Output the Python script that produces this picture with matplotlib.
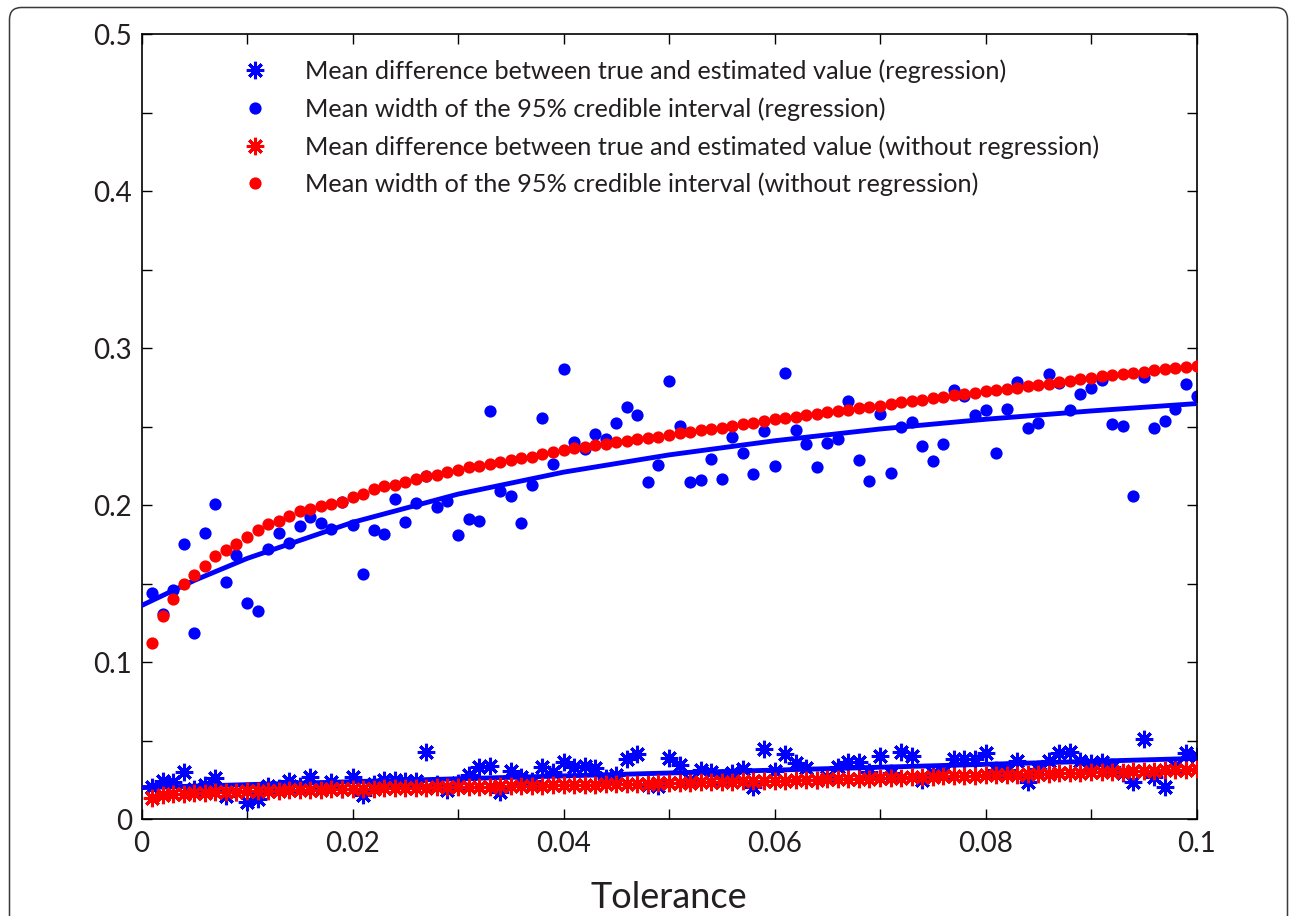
import numpy as np
import matplotlib
matplotlib.use("Agg")
import matplotlib.pyplot as plt
from matplotlib.patches import FancyBboxPatch
from matplotlib.lines import Line2D
from matplotlib.transforms import IdentityTransform
from matplotlib.ticker import FixedLocator, FuncFormatter

plt.rcParams['font.family'] = ['Lato', 'DejaVu Sans']

# Tolerance values (0.001 ... 0.1)
tolerance = np.arange(1, 101) / 1000.0

# Mean width of the 95% credible interval (regression)
width_reg = [
    0.1438, 0.1306, 0.1459, 0.1750, 0.1183, 0.1820, 0.2005, 0.1512, 0.1682, 0.1378,
    0.1325, 0.1720, 0.1820, 0.1761, 0.1869, 0.1926, 0.1884, 0.1848, 0.2022, 0.1873,
    0.1559, 0.1841, 0.1814, 0.2039, 0.1890, 0.2011, 0.2186, 0.1990, 0.2028, 0.1810,
    0.1912, 0.1899, 0.2600, 0.2090, 0.2060, 0.1884, 0.2128, 0.2553, 0.2260, 0.2867,
    0.2404, 0.2360, 0.2451, 0.2421, 0.2525, 0.2627, 0.2574, 0.2147, 0.2256, 0.2793,
    0.2504, 0.2147, 0.2160, 0.2294, 0.2164, 0.2432, 0.2332, 0.2200, 0.2470, 0.2247,
    0.2840, 0.2477, 0.2387, 0.2241, 0.2398, 0.2419, 0.2663, 0.2288, 0.2152, 0.2583,
    0.2203, 0.2500, 0.2532, 0.2377, 0.2281, 0.2387, 0.2734, 0.2695, 0.2574, 0.2606,
    0.2330, 0.2612, 0.2782, 0.2494, 0.2521, 0.2835, 0.2776, 0.2606, 0.2706, 0.2744,
    0.2797, 0.2517, 0.2506, 0.2058, 0.2818, 0.2489, 0.2538, 0.2610, 0.2772, 0.2695,
]

# Mean width of the 95% credible interval (without regression)
width_noreg = [
    0.1120, 0.1294, 0.1403, 0.1496, 0.1556, 0.1609, 0.1673, 0.1711, 0.1751, 0.1794,
    0.1839, 0.1879, 0.1900, 0.1932, 0.1960, 0.1974, 0.1996, 0.2009, 0.2023, 0.2051,
    0.2072, 0.2104, 0.2119, 0.2130, 0.2147, 0.2168, 0.2183, 0.2194, 0.2210, 0.2225,
    0.2240, 0.2251, 0.2262, 0.2277, 0.2288, 0.2298, 0.2309, 0.2324, 0.2338, 0.2351,
    0.2366, 0.2372, 0.2383, 0.2392, 0.2400, 0.2411, 0.2419, 0.2430, 0.2436, 0.2447,
    0.2457, 0.2466, 0.2477, 0.2485, 0.2494, 0.2506, 0.2515, 0.2523, 0.2536, 0.2549,
    0.2555, 0.2564, 0.2572, 0.2583, 0.2593, 0.2600, 0.2608, 0.2617, 0.2627, 0.2634,
    0.2646, 0.2655, 0.2663, 0.2672, 0.2680, 0.2689, 0.2700, 0.2708, 0.2717, 0.2725,
    0.2734, 0.2740, 0.2748, 0.2757, 0.2765, 0.2774, 0.2782, 0.2793, 0.2801, 0.2812,
    0.2823, 0.2829, 0.2835, 0.2840, 0.2850, 0.2861, 0.2865, 0.2874, 0.2880, 0.2886,
]

# Mean difference between true and estimated value (regression)
diff_reg = [
    0.0206, 0.0244, 0.0238, 0.0302, 0.0190, 0.0217, 0.0259, 0.0149, 0.0174, 0.0110,
    0.0125, 0.0210, 0.0200, 0.0240, 0.0210, 0.0270, 0.0190, 0.0238, 0.0190, 0.0270,
    0.0153, 0.0220, 0.0249, 0.0249, 0.0245, 0.0240, 0.0429, 0.0220, 0.0185, 0.0230,
    0.0280, 0.0333, 0.0336, 0.0174, 0.0308, 0.0270, 0.0240, 0.0333, 0.0302, 0.0365,
    0.0329, 0.0336, 0.0323, 0.0260, 0.0280, 0.0380, 0.0414, 0.0217, 0.0210, 0.0387,
    0.0344, 0.0250, 0.0312, 0.0302, 0.0260, 0.0295, 0.0316, 0.0206, 0.0444, 0.0308,
    0.0414, 0.0355, 0.0323, 0.0250, 0.0270, 0.0329, 0.0365, 0.0365, 0.0300, 0.0401,
    0.0290, 0.0425, 0.0404, 0.0250, 0.0290, 0.0300, 0.0380, 0.0380, 0.0380, 0.0418,
    0.0310, 0.0310, 0.0372, 0.0238, 0.0320, 0.0372, 0.0423, 0.0429, 0.0372, 0.0355,
    0.0361, 0.0330, 0.0291, 0.0238, 0.0508, 0.0270, 0.0206, 0.0340, 0.0423, 0.0401,
]

# Mean difference between true and estimated value (without regression)
diff_noreg = [
    0.0135, 0.0152, 0.0158, 0.0162, 0.0165, 0.0168, 0.0170, 0.0172, 0.0174, 0.0176,
    0.0178, 0.0180, 0.0181, 0.0183, 0.0184, 0.0186, 0.0187, 0.0188, 0.0190, 0.0191,
    0.0192, 0.0193, 0.0195, 0.0196, 0.0197, 0.0198, 0.0199, 0.0201, 0.0202, 0.0203,
    0.0204, 0.0205, 0.0207, 0.0208, 0.0209, 0.0210, 0.0212, 0.0213, 0.0214, 0.0216,
    0.0217, 0.0218, 0.0219, 0.0221, 0.0222, 0.0223, 0.0224, 0.0226, 0.0227, 0.0228,
    0.0230, 0.0231, 0.0233, 0.0234, 0.0236, 0.0237, 0.0239, 0.0240, 0.0242, 0.0243,
    0.0245, 0.0247, 0.0248, 0.0250, 0.0252, 0.0253, 0.0255, 0.0257, 0.0258, 0.0260,
    0.0262, 0.0264, 0.0265, 0.0267, 0.0269, 0.0271, 0.0272, 0.0274, 0.0276, 0.0278,
    0.0280, 0.0282, 0.0283, 0.0285, 0.0287, 0.0289, 0.0291, 0.0293, 0.0295, 0.0297,
    0.0299, 0.0301, 0.0302, 0.0304, 0.0306, 0.0308, 0.0310, 0.0312, 0.0314, 0.0316,
]

# Fitted trend curves for the regression series
fit_width_x = [0.0, 0.005, 0.01, 0.02, 0.03, 0.04, 0.05, 0.06, 0.07, 0.08, 0.09, 0.1]
fit_width_y = [0.1360, 0.1520, 0.1660, 0.1890, 0.2070, 0.2210, 0.2320, 0.2410,
               0.2485, 0.2547, 0.2600, 0.2647]
fit_diff_x = [0.0, 0.025, 0.05, 0.075, 0.1]
fit_diff_y = [0.0200, 0.0247, 0.0293, 0.0339, 0.0386]

legend_labels = [
    "Mean difference between true and estimated value (regression)",
    "Mean width of the 95% credible interval (regression)",
    "Mean difference between true and estimated value (without regression)",
    "Mean width of the 95% credible interval (without regression)",
]

BLUE = (0, 0, 1)
RED = (1, 0, 0)
TEXT = "#231f20"
STAR = (8, 2, 0)
STAR_KW = dict(marker=STAR, ms=12.5, mew=2.2)
DOT_KW = dict(marker="o", ms=8.8, mew=0)

W, H = 1290, 916
fig = plt.figure(figsize=(W / 100, H / 100), dpi=100)
ax = fig.add_axes([141.5 / W, 1 - 819 / H, (1196.5 - 141.5) / W, (819 - 34.3) / H])

ax.plot(tolerance, diff_reg, linestyle="none", color=BLUE, zorder=2, **STAR_KW)
ax.plot(tolerance, width_reg, linestyle="none", color=BLUE, zorder=2, **DOT_KW)
ax.plot(fit_width_x, fit_width_y, color=BLUE, lw=3.5, zorder=3,
        solid_capstyle="butt", solid_joinstyle="round")
ax.plot(fit_diff_x, fit_diff_y, color=BLUE, lw=3.5, zorder=3,
        solid_capstyle="butt", solid_joinstyle="round")
ax.plot(tolerance, diff_noreg, linestyle="none", color=RED, zorder=4, **STAR_KW)
ax.plot(tolerance, width_noreg, linestyle="none", color=RED, zorder=4, **DOT_KW)

ax.set_xlim(0, 0.1)
ax.set_ylim(0, 0.5)

xt = [i / 100 for i in range(11)]
yt = [i / 20 for i in range(11)]
ax.xaxis.set_major_locator(FixedLocator(xt))
ax.yaxis.set_major_locator(FixedLocator(yt))


def xfmt(v, pos):
    k = int(round(v * 100))
    if k % 2:
        return ""
    return "0" if k == 0 else ("0.1" if k == 10 else f"{v:.2f}")


def yfmt(v, pos):
    k = int(round(v * 20))
    if k % 2:
        return ""
    return "0" if k == 0 else f"{v:.1f}"


ax.xaxis.set_major_formatter(FuncFormatter(xfmt))
ax.yaxis.set_major_formatter(FuncFormatter(yfmt))
ax.tick_params(direction="in", length=7, width=1.0, top=True, right=True,
               labelsize=20, colors="black", labelcolor=TEXT)
ax.tick_params(axis="y", pad=7)
ax.tick_params(axis="x", pad=9)
for s in ax.spines.values():
    s.set_linewidth(1.2)

ax.set_xlabel("Tolerance", fontsize=26, color=TEXT, labelpad=17)

handles = [
    Line2D([], [], linestyle="none", color=BLUE, **STAR_KW),
    Line2D([], [], linestyle="none", color=BLUE, **DOT_KW),
    Line2D([], [], linestyle="none", color=RED, **STAR_KW),
    Line2D([], [], linestyle="none", color=RED, **DOT_KW),
]
leg = ax.legend(handles, legend_labels, loc="upper left",
                bbox_to_anchor=(0.0839, 0.968), frameon=False, fontsize=18.2,
                handlelength=2.0, handletextpad=0.98, labelspacing=0.56,
                borderpad=0, borderaxespad=0)
for t in leg.get_texts():
    t.set_color(TEXT)

# Rounded outer frame
frame = FancyBboxPatch((9.5, -30), 1287.5 - 9.5, 908.5 + 30,
                       boxstyle="round,pad=0,rounding_size=12",
                       transform=IdentityTransform(), fill=False,
                       edgecolor="#3a3a3a", lw=1.1, zorder=0)
fig.patches.append(frame)

fig.savefig("out.png", dpi=100)
